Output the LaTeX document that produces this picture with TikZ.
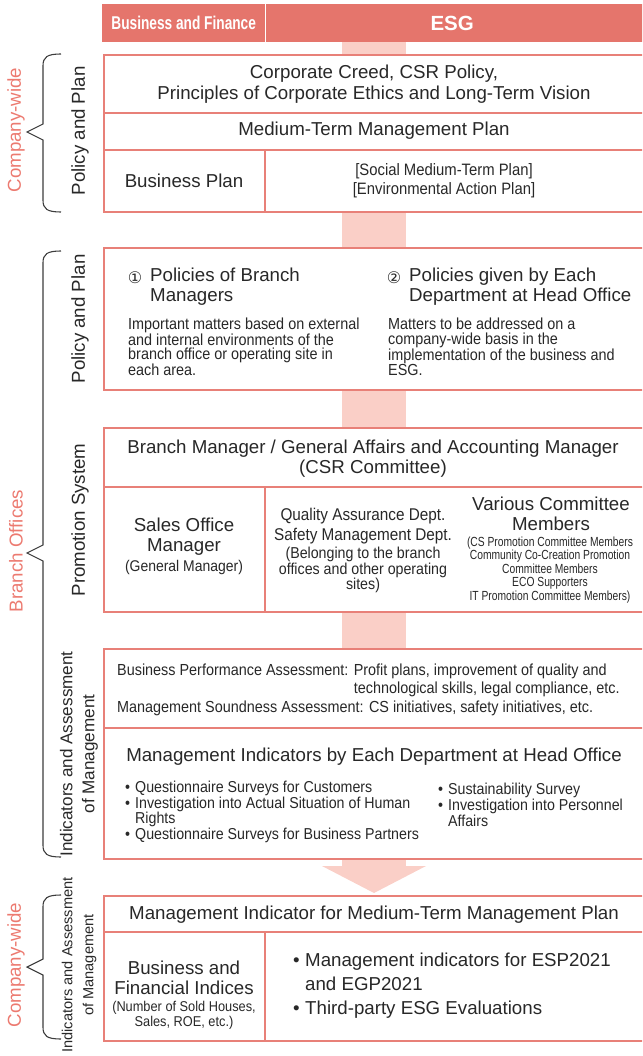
\documentclass[tikz,border=0pt]{standalone}
\usepackage{fontspec}
\setmainfont{Liberation Sans}
\newfontfamily\condf[FakeStretch=0.9]{Liberation Sans}
\newfontfamily\narf[FakeStretch=0.78]{Liberation Sans}
\newfontfamily\headf[FakeStretch=0.74]{Liberation Sans}
\newfontfamily\symf{DejaVu Sans}
\newcommand\fsz[2]{\fontsize{#1}{#2}\selectfont}
\definecolor{hdr}{RGB}{229,117,108}
\definecolor{brd}{RGB}{232,128,120}
\definecolor{bandc}{RGB}{250,207,199}
\definecolor{redtxt}{RGB}{236,122,112}
\definecolor{txt}{RGB}{40,40,40}
\definecolor{brc}{RGB}{60,60,60}
\begin{document}
\begin{tikzpicture}[x=1pt,y=-1pt,
  every node/.style={inner sep=0pt,text=txt},
  box/.style={draw=brd,line width=2pt,fill=white,anchor=north west,minimum width=545pt},
  divider/.style={draw=brd,line width=2pt},
  hdrcell/.style={fill=hdr,anchor=north west,minimum height=38pt,text=white},
  main/.style={font=\fsz{18.7}{21}},
  vlbl/.style={rotate=90,font=\fsz{18.7}{22}},
  redlbl/.style={rotate=90,font=\fsz{18.7}{22},text=redtxt},
  bracec/.style={draw=brc,line width=1.1pt}]
\useasboundingbox (0,0) rectangle (642,1056);
\clip (0,0) rectangle (642,1056);

% header
\node[hdrcell,minimum width=163pt] (hbf) at (102,4) {\headf\bfseries\fsz{18.5}{20}Business and Finance};
\node[hdrcell,minimum width=380pt] (hesg) at (265,4) {\bfseries\fsz{20.5}{22}\hspace*{-3pt}ESG\hspace*{3pt}};
\draw[white,line width=1.5pt] (hbf.north east) -- (hbf.south east);

% band and arrow
\fill[bandc] (342,42) rectangle (406,867);
\fill[bandc] (322,866) -- (426,866) -- (374,893) -- cycle;

% box 1
\node[box,minimum height=157pt] (b1) at (103,54) {};
\draw[divider] (103,113) -- (650,113);
\draw[divider] (103,150) -- (650,150);
\draw[divider] (265,150) -- (265,211);
\node[main,align=center] (creed) at (374,84) {Corporate Creed, CSR Policy,\\Principles of Corporate Ethics and Long-Term Vision};
\node[main] (mtmp) at (374,131) {Medium-Term Management Plan};
\node[main] (bplan) at (184,181) {Business Plan};
\node[font=\condf\fsz{16.5}{19},align=center] (socplan) at (444,181) {{[}Social Medium-Term Plan{]}\\{[}Environmental Action Plan{]}};

% box 2
\node[box,minimum height=142pt] (b2) at (103,247) {};
\node[font=\symf\fsz{16}{18}] (c1) at (135,278) {①};
\node[main,align=left,anchor=west,font=\fsz{18.7}{20}] (pol1) at (150,287) {Policies of Branch\\Managers};
\node[font=\symf\fsz{16}{18}] (c2) at (394,278) {②};
\node[main,align=left,anchor=west,font=\fsz{18.7}{20}] (pol2) at (409,287) {Policies given by Each\\Department at Head Office};
\node[font=\condf\fsz{16}{14.3},align=left,anchor=west] (txt1) at (128,347) {Important matters based on external\\and internal environments of the\\branch office or operating site in\\each area.};
\node[font=\condf\fsz{16}{14.3},align=left,anchor=west] (txt2) at (388,347) {Matters to be addressed on a\\company-wide basis in the\\implementation of the business and\\ESG.};

% box 3
\node[box,minimum height=184pt] (b3) at (103,427) {};
\draw[divider] (103,487) -- (650,487);
\draw[divider] (265,487) -- (265,611);
\node[main,align=center,font=\fsz{18.7}{20}] (bm) at (373,459) {Branch Manager / General Affairs and Accounting Manager\\(CSR Committee)};
\node[main,align=center,font=\fsz{18.7}{20}] (som) at (184,537) {Sales Office\\Manager};
\node[font=\condf\fsz{15.5}{14}] (somsub) at (184,567) {(General Manager)};
\node[font=\condf\fsz{17}{20},align=center] (qa) at (363,526) {Quality Assurance Dept.\\Safety Management Dept.};
\node[font=\condf\fsz{15.8}{13.6},align=center] (qasub) at (363,570) {(Belonging to the branch\\offices and other operating\\sites)};
\node[main,align=center,font=\fsz{18.7}{20}] (vc) at (551,514) {Various Committee\\Members};
\node[font=\narf\fsz{13.2}{13.5},align=center] (vcsub) at (550,570) {(CS Promotion Committee Members\\Community Co-Creation Promotion\\Committee Members\\ECO Supporters\\IT Promotion Committee Members)};

% box 4
\node[box,minimum height=210pt] (b4) at (103,648) {};
\draw[divider] (103,728) -- (650,728);
\node[anchor=west,font=\condf\fsz{16}{18.5}] (assess) at (117,690) {\begin{tabular}{@{}l@{ }l@{}}Business Performance Assessment: & Profit plans, improvement of quality and\\ & technological skills, legal compliance, etc.\\ \multicolumn{2}{@{}l@{}}{Management Soundness Assessment: CS initiatives, safety initiatives, etc.}\end{tabular}};
\node[main] (mi) at (374,757) {Management Indicators by Each Department at Head Office};
\node[anchor=west,font=\condf\fsz{15.8}{14.2},align=left] (bl) at (125,812) {\makebox[10pt][l]{•}Questionnaire Surveys for Customers\\\makebox[10pt][l]{•}Investigation into Actual Situation of Human\\\hspace*{10pt}Rights\\\makebox[10pt][l]{•}Questionnaire Surveys for Business Partners};
\node[anchor=west,font=\condf\fsz{15.8}{14.2},align=left] (br) at (438,805) {\makebox[10pt][l]{•}Sustainability Survey\\\makebox[10pt][l]{•}Investigation into Personnel\\\hspace*{10pt}Affairs};

% box 5
\node[box,minimum height=145pt] (b5) at (103,895) {};
\draw[divider] (103,932) -- (650,932);
\draw[divider] (265,932) -- (265,1040);
\node[main] (mimp) at (374,915) {Management Indicator for Medium-Term Management Plan};
\node[main,align=center,font=\fsz{18.7}{20}] (bfi) at (184,978) {Business and\\Financial Indices};
\node[font=\condf\fsz{14.2}{15},align=center] (bfisub) at (184,1015) {(Number of Sold Houses,\\Sales, ROE, etc.)};
\node[anchor=west,font=\fsz{18.7}{24},align=left] (esp) at (293,986) {\makebox[12pt][l]{•}Management indicators for ESP2021\\\hspace*{12pt}and EGP2021\\\makebox[12pt][l]{•}Third-party ESG Evaluations};

% left labels
\node[redlbl] (cw1) at (16,130) {Company-wide};
\node[vlbl] (pp1) at (80,131) {Policy and Plan};
\node[redlbl] (bo) at (16,551) {Branch Offices};
\node[vlbl] (pp2) at (80,319) {Policy and Plan};
\node[vlbl] (ps) at (80,520) {Promotion System};
\node[rotate=90,font=\fsz{17.1}{22},align=center] (ia1) at (79,754) {Indicators and Assessment\\of Management};
\node[redlbl] (cw2) at (16,965) {Company-wide};
\node[rotate=90,font=\fsz{14.6}{21},align=center] (ia2) at (79,965) {Indicators and Assessment\\of Management};

% braces
\foreach \t/\m/\b in {54/132/212, 251/553/857, 895/967/1039}{
  \draw[bracec] (61,\t) .. controls (47,\t) and (43,\t+3) .. (43,\t+12)
     -- (43,\m-8) -- (27,\m) -- (43,\m+8) -- (43,\b-12)
     .. controls (43,\b-3) and (47,\b) .. (61,\b);
}
\end{tikzpicture}
\end{document}
